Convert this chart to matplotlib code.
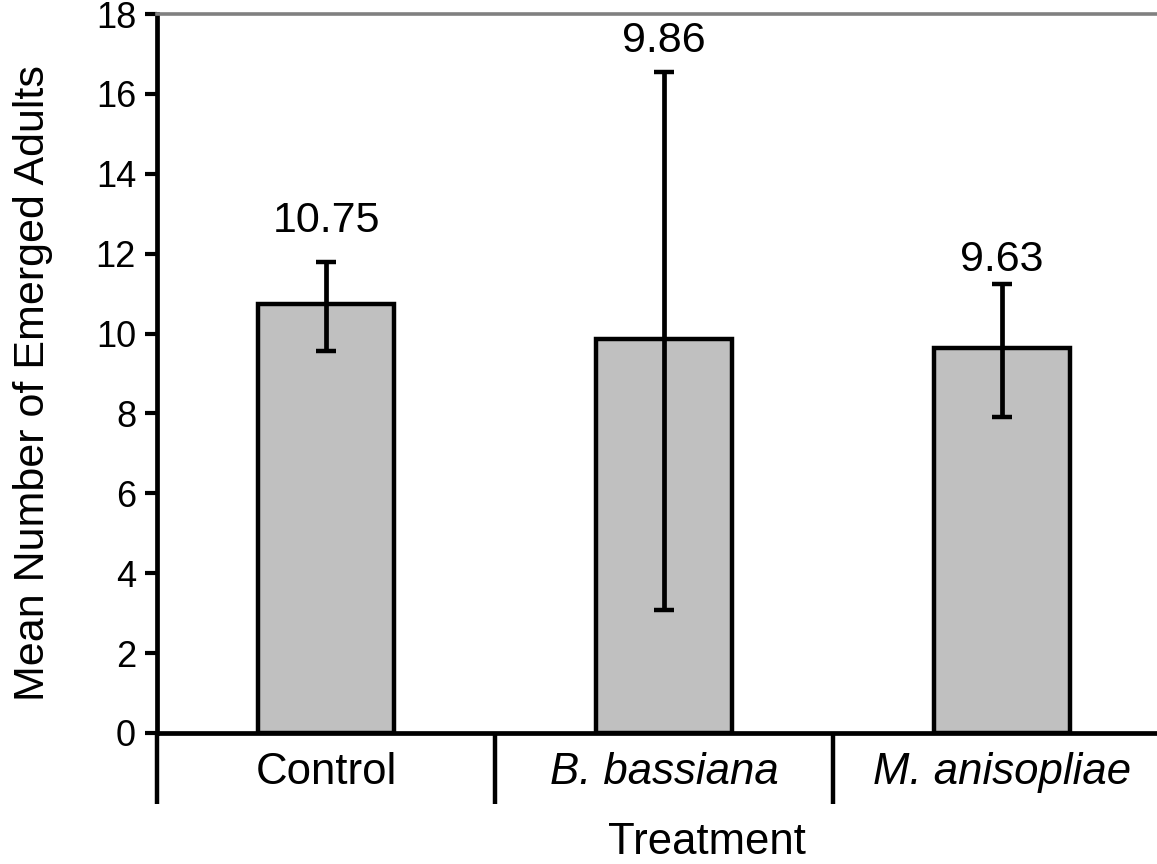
import matplotlib
matplotlib.use("Agg")
import matplotlib.pyplot as plt
from matplotlib.ticker import FixedLocator, NullFormatter

plt.rcParams['font.family'] = ['Liberation Sans', 'DejaVu Sans']

categories = ["Control", "B. bassiana", "M. anisopliae"]
italic_flags = [False, True, True]
means = [10.75, 9.86, 9.63]
err_lower = [1.19, 6.78, 1.72]
err_upper = [1.04, 6.70, 1.60]
value_labels = ["10.75", "9.86", "9.63"]
label_offsets = [0.75, 0.49, 0.34]
yticks = [0, 2, 4, 6, 8, 10, 12, 14, 16, 18]

W, H = 1157, 864
fig = plt.figure(figsize=(W / 100, H / 100), dpi=100)
ax = fig.add_axes([157 / W, 1 - 733 / H, 1014 / W, (733 - 14) / H])

x = list(range(len(categories)))
ax.bar(x, means, width=0.405, color="#C0C0C0", edgecolor="black",
       linewidth=3.2, zorder=2)
ax.errorbar(x, means, yerr=[err_lower, err_upper], fmt="none", ecolor="black",
            elinewidth=3.4, capsize=7.5, capthick=3.2, zorder=3)

for xi, m, eu, lab, off in zip(x, means, err_upper, value_labels, label_offsets):
    ax.text(xi, m + eu + off, lab, ha="center", va="baseline", fontsize=31)

ax.set_xlim(-0.5, 2.5)
ax.set_ylim(0, 18)
ax.set_yticks(yticks)
ax.tick_params(axis="y", direction="out", length=8.6, width=3.0,
               labelsize=26, pad=6.5)

ax.set_xticks(x)
ax.set_xticklabels(categories)
for lbl, it in zip(ax.get_xticklabels(), italic_flags):
    lbl.set_fontstyle("italic" if it else "normal")
ax.tick_params(axis="x", which="major", length=0, labelsize=31.5, pad=14)
ax.xaxis.set_minor_locator(FixedLocator([-0.5, 0.5, 1.5]))
ax.xaxis.set_minor_formatter(NullFormatter())
ax.tick_params(axis="x", which="minor", direction="out", length=51,
               width=3.2, color="black")

for side in ("left", "bottom"):
    ax.spines[side].set_linewidth(3.4)
    ax.spines[side].set_color("black")
ax.spines["top"].set_color("#808080")
ax.spines["top"].set_linewidth(2.6)
ax.spines["right"].set_visible(False)

ax.set_ylabel("Mean Number of Emerged Adults", fontsize=31)
ax.yaxis.set_label_coords((33 - 157) / 1014, (733 - 383.5) / (733 - 14),
                          transform=ax.transAxes)
ax.yaxis.label.set_va("center")
ax.set_xlabel("Treatment", fontsize=31.5)
ax.xaxis.set_label_coords((707 - 157) / 1014, -(854 - 733) / (733 - 14))
ax.xaxis.label.set_va("baseline")

fig.savefig("out.png", dpi=100)
